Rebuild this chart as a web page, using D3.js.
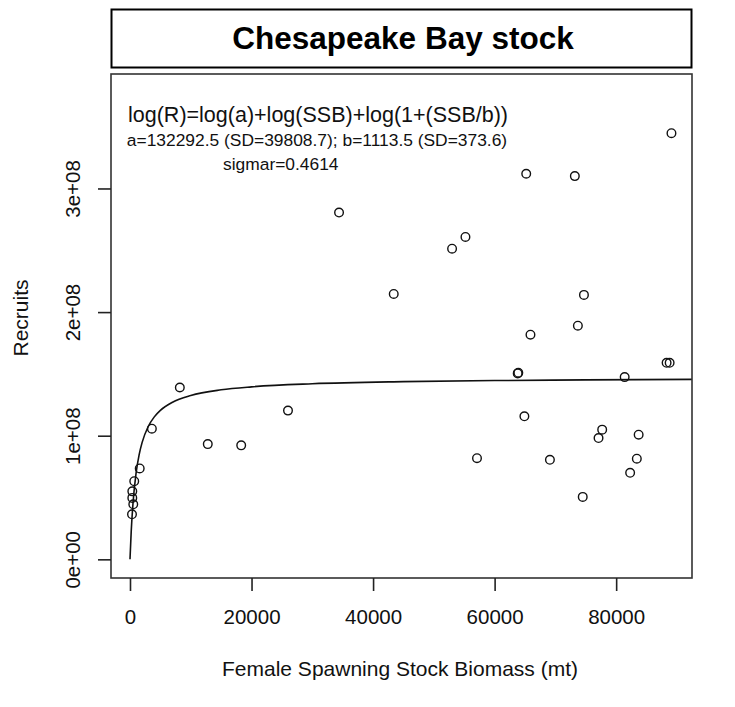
<!DOCTYPE html>
<html>
<head>
<meta charset="utf-8">
<script src="https://cdn.jsdelivr.net/npm/d3@7"></script>
<style>
  html, body { margin: 0; padding: 0; background: #fff; }
  svg { display: block; font-family: "Liberation Sans", Arial, sans-serif; }
</style>
</head>
<body>
<svg id="chart" width="735" height="707"></svg>
<script>
// ---- data ----
const chartTitle = "Chesapeake Bay stock";
const xLabel = "Female Spawning Stock Biomass (mt)";
const yLabel = "Recruits";
const xTicks = [0, 20000, 40000, 60000, 80000];
const xTickLabels = ["0", "20000", "40000", "60000", "80000"];
const yTicks = [0, 1e8, 2e8, 3e8];
const yTickLabels = ["0e+00", "1e+08", "2e+08", "3e+08"];

// observed points: SSB (mt) and recruits
const ssb = [89100, 65200, 73200, 34400, 55200, 53000, 43400, 74700, 73700, 65900,
             63800, 63900, 81400, 88300, 88800, 64900, 77700, 77100, 83700, 57100,
             69100, 83400, 82300, 74500, 8200, 3600, 1600, 700, 380, 380,
             540, 330, 12800, 18300, 26000];
const recruits = [3.447e8, 3.119e8, 3.100e8, 2.805e8, 2.608e8, 2.513e8, 2.147e8, 2.139e8, 1.890e8, 1.817e8,
                  1.504e8, 1.510e8, 1.474e8, 1.590e8, 1.590e8, 1.157e8, 1.049e8, 9.81e7, 1.008e8, 8.18e7,
                  8.05e7, 8.14e7, 7.00e7, 5.05e7, 1.390e8, 1.057e8, 7.35e7, 6.32e7, 5.50e7, 4.97e7,
                  4.45e7, 3.64e7, 9.32e7, 9.22e7, 1.203e8];

const curveSSB = [0, 200, 500, 1000, 1500, 2000, 3000, 4000, 5000, 7000, 10000, 15000,
                  20000, 30000, 45000, 60000, 75000, 92500];
const curveR = [0, 2.243e7, 4.565e7, 6.970e7, 8.454e7, 9.462e7, 1.0743e8, 1.1523e8, 1.2047e8,
                1.2709e8, 1.3254e8, 1.3712e8, 1.3954e8, 1.4203e8, 1.4374e8, 1.4462e8, 1.4515e8, 1.4555e8];

const annotLines = [
  "log(R)=log(a)+log(SSB)+log(1+(SSB/b))",
  "a=132292.5 (SD=39808.7); b=1113.5 (SD=373.6)",
  "sigmar=0.4614"
];

// ---- layout ----
const plot = { left: 111, right: 692, top: 74, bottom: 578 };
const svg = d3.select("#chart");

const x = d3.scaleLinear().domain([-3125, 92480]).range([plot.left, plot.right]);
const y = d3.scaleLinear().domain([-1.51e7, 3.926e8]).range([plot.bottom, plot.top]);

// title box
svg.append("rect")
  .attr("x", 111.5).attr("y", 9.5).attr("width", 580).attr("height", 58)
  .attr("fill", "none").attr("stroke", "#000").attr("stroke-width", 2);
svg.append("text")
  .attr("x", 403).attr("y", 49)
  .attr("text-anchor", "middle")
  .attr("font-size", 31.5).attr("font-weight", "bold")
  .text(chartTitle);

// clip
svg.append("clipPath").attr("id", "clip")
  .append("rect").attr("x", plot.left).attr("y", plot.top)
  .attr("width", plot.right - plot.left).attr("height", plot.bottom - plot.top);

// curve
const line = d3.line().x((d, i) => x(curveSSB[i])).y(d => y(d)).curve(d3.curveMonotoneX);
svg.append("path")
  .attr("clip-path", "url(#clip)")
  .attr("d", line(curveR))
  .attr("fill", "none").attr("stroke", "#111").attr("stroke-width", 1.6);

// points
svg.append("g").selectAll("circle")
  .data(ssb.map((s, i) => [s, recruits[i]]))
  .join("circle")
  .attr("cx", d => x(d[0])).attr("cy", d => y(d[1]))
  .attr("r", 4.3)
  .attr("fill", "none").attr("stroke", "#111").attr("stroke-width", 1.4);

// plot box
svg.append("rect")
  .attr("x", plot.left).attr("y", plot.top)
  .attr("width", plot.right - plot.left).attr("height", plot.bottom - plot.top)
  .attr("fill", "none").attr("stroke", "#333").attr("stroke-width", 1.6);

// x axis
const xAxis = d3.axisBottom(x).tickValues(xTicks)
  .tickFormat((d, i) => xTickLabels[i]).tickSize(13).tickPadding(18);
const gx = svg.append("g").attr("transform", `translate(0,${plot.bottom})`).call(xAxis);
gx.select(".domain").remove();
gx.selectAll("line").attr("stroke", "#222").attr("stroke-width", 1.6);
gx.selectAll("text").attr("font-size", 20.5).attr("fill", "#111")
  .attr("font-family", "Liberation Sans, Arial, sans-serif");

// y axis
const yAxis = d3.axisLeft(y).tickValues(yTicks)
  .tickFormat((d, i) => yTickLabels[i]).tickSize(13).tickPadding(0);
const gy = svg.append("g").attr("transform", `translate(${plot.left},0)`).call(yAxis);
gy.select(".domain").remove();
gy.selectAll("line").attr("stroke", "#222").attr("stroke-width", 1.6);
gy.selectAll("text")
  .attr("font-size", 20.5).attr("fill", "#111")
  .attr("font-family", "Liberation Sans, Arial, sans-serif")
  .attr("text-anchor", "middle")
  .attr("x", null).attr("dy", null)
  .attr("transform", "translate(-31,0) rotate(-90)")
  .attr("y", 0);

// axis titles
svg.append("text")
  .attr("x", 400).attr("y", 676)
  .attr("text-anchor", "middle").attr("font-size", 21).attr("fill", "#111")
  .text(xLabel);
svg.append("text")
  .attr("transform", "translate(28,318) rotate(-90)")
  .attr("text-anchor", "middle").attr("font-size", 21).attr("fill", "#111")
  .text(yLabel);

// annotation
svg.append("text").attr("x", 318).attr("y", 122).attr("text-anchor", "middle")
  .attr("font-size", 21.5).attr("fill", "#111").text(annotLines[0]);
svg.append("text").attr("x", 317).attr("y", 146).attr("text-anchor", "middle")
  .attr("font-size", 17.4).attr("fill", "#111").text(annotLines[1]);
svg.append("text").attr("x", 223).attr("y", 170).attr("text-anchor", "start")
  .attr("font-size", 17.4).attr("fill", "#111").text(annotLines[2]);
</script>
</body>
</html>
